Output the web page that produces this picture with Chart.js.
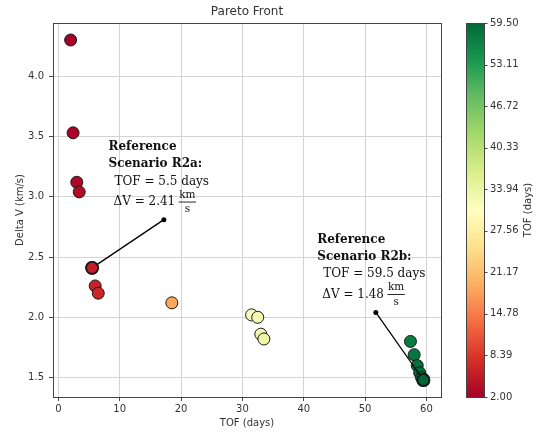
<!DOCTYPE html>
<html>
<head>
<meta charset="utf-8">
<script src="https://cdn.jsdelivr.net/npm/chart.js@4.4.1/dist/chart.umd.min.js"></script>
<style>
  html, body { margin: 0; padding: 0; background: #fff; }
  #chart { display: block; }
</style>
</head>
<body>
<canvas id="chart" width="538" height="432"></canvas>
<script>
// data
const tofDays = [2.0, 2.4, 3.0, 3.4, 5.5, 6.0, 6.5, 18.5, 31.5, 32.5, 33.0, 33.5, 57.4, 58.0, 58.5, 58.9, 59.2, 59.5];
const deltaV  = [4.30, 3.53, 3.12, 3.04, 2.41, 2.26, 2.20, 2.12, 2.02, 2.00, 1.86, 1.82, 1.80, 1.69, 1.60, 1.54, 1.50, 1.48];

const xTicks = [0, 10, 20, 30, 40, 50, 60];
const yTicks = [1.5, 2.0, 2.5, 3.0, 3.5, 4.0];
const cbarTicks = [2.00, 8.39, 14.78, 21.17, 27.56, 33.94, 40.33, 46.72, 53.11, 59.50];
const cbarMin = 2.0, cbarMax = 59.5;

// reference scenarios (index into the data + where the label sits, in data units)
const refIndex = [4, 17];
const refName = ['R2a', 'R2b'];
const dotX = [17.2, 51.75];
const dotY = [2.81, 2.04];
const textX = [8.17, 42.2];
const textY = [3.387, 2.62];

// RdYlGn
const rdylgn = ['#a50026', '#d73027', '#f46d43', '#fdae61', '#fee08b', '#ffffbf',
                '#d9ef8b', '#a6d96a', '#66bd63', '#1a9850', '#006837'];

function hexRgb(h) {
    return [parseInt(h.slice(1, 3), 16), parseInt(h.slice(3, 5), 16), parseInt(h.slice(5, 7), 16)];
}

function cmap(v) {
    let t = (v - cbarMin) / (cbarMax - cbarMin);
    t = Math.max(0, Math.min(1, t)) * (rdylgn.length - 1);
    const i = Math.min(Math.floor(t), rdylgn.length - 2);
    const f = t - i;
    const a = hexRgb(rdylgn[i]), b = hexRgb(rdylgn[i + 1]);
    const c = a.map((x, k) => Math.round(x + (b[k] - x) * f));
    return `rgb(${c[0]},${c[1]},${c[2]})`;
}

const points = tofDays.map((t, i) => ({ x: t, y: deltaV[i] }));

const decor = {
    id: 'decor',
    afterDatasetsDraw(chart) {
        const ctx = chart.ctx;
        const xs = chart.scales.x, ys = chart.scales.y;
        const meta = chart.getDatasetMeta(0);
        refIndex.forEach((idx, i) => {
            const pt = meta.data[idx];
            const dx = xs.getPixelForValue(dotX[i]), dy = ys.getPixelForValue(dotY[i]);
            ctx.save();
            ctx.strokeStyle = '#000';
            ctx.lineWidth = 1.3;
            ctx.beginPath();
            ctx.moveTo(pt.x, pt.y);
            ctx.lineTo(dx, dy);
            ctx.stroke();
            ctx.fillStyle = '#000';
            ctx.beginPath();
            ctx.arc(dx, dy, 2.5, 0, Math.PI * 2);
            ctx.fill();
            ctx.restore();
            pt.draw(ctx, chart.chartArea);

            // label text
            const tx = xs.getPixelForValue(textX[i]), ty = ys.getPixelForValue(textY[i]);
            ctx.save();
            ctx.fillStyle = '#111';
            ctx.textAlign = 'left';
            ctx.textBaseline = 'alphabetic';
            ctx.font = 'bold 12px "DejaVu Serif"';
            ctx.fillText('Reference', tx, ty);
            ctx.fillText('Scenario ' + refName[i] + ':', tx, ty + 17);
            ctx.font = '12px "DejaVu Serif"';
            ctx.fillText('TOF = ' + tofDays[idx].toFixed(1) + ' days', tx + 6, ty + 34.5);
            const dv = '\u0394V = ' + deltaV[idx].toFixed(2);
            ctx.fillText(dv, tx + 5, ty + 55);
            const fx = tx + 5 + ctx.measureText(dv).width + 4;
            ctx.font = '10.5px "DejaVu Serif"';
            const kw = ctx.measureText('km').width;
            ctx.fillText('km', fx, ty + 47.5);
            ctx.fillRect(fx - 0.5, ty + 51.5, kw + 1, 0.9);
            ctx.textAlign = 'center';
            ctx.fillText('s', fx + kw / 2, ty + 62);
            ctx.restore();
        });
    },
    afterDraw(chart) {
        const ctx = chart.ctx;
        const a = chart.chartArea;
        ctx.save();
        // frame
        ctx.strokeStyle = '#444';
        ctx.lineWidth = 1;
        ctx.strokeRect(Math.round(a.left) + 0.5, Math.round(a.top) + 0.5,
                       Math.round(a.right - a.left), Math.round(a.bottom - a.top));

        // titles
        ctx.fillStyle = '#333';
        ctx.textAlign = 'center';
        ctx.textBaseline = 'middle';
        ctx.font = '12px "DejaVu Sans"';
        ctx.fillText('Pareto Front', (a.left + a.right) / 2, 12);
        ctx.font = '10px "DejaVu Sans"';
        ctx.fillText('TOF (days)', (a.left + a.right) / 2, 423);
        ctx.save();
        ctx.translate(20, (a.top + a.bottom) / 2);
        ctx.rotate(-Math.PI / 2);
        ctx.fillText('Delta V (km/s)', 0, 0);
        ctx.restore();

        // colorbar
        const cbX = 466, cbW = 18;
        const top = Math.round(a.top), bot = Math.round(a.bottom);
        const grad = ctx.createLinearGradient(0, bot, 0, top);
        rdylgn.forEach((c, k) => grad.addColorStop(k / (rdylgn.length - 1), c));
        ctx.fillStyle = grad;
        ctx.fillRect(cbX, top, cbW, bot - top);
        ctx.strokeStyle = '#444';
        ctx.strokeRect(cbX + 0.5, top + 0.5, cbW, bot - top);
        ctx.fillStyle = '#333';
        ctx.textAlign = 'left';
        ctx.textBaseline = 'middle';
        cbarTicks.forEach(v => {
            const y = bot - (v - cbarMin) / (cbarMax - cbarMin) * (bot - top);
            ctx.beginPath();
            ctx.moveTo(cbX + cbW, Math.round(y) + 0.5);
            ctx.lineTo(cbX + cbW + 3.5, Math.round(y) + 0.5);
            ctx.stroke();
            ctx.fillText(v.toFixed(2), cbX + cbW + 6, y);
        });
        ctx.translate(528, (top + bot) / 2);
        ctx.rotate(-Math.PI / 2);
        ctx.textAlign = 'center';
        ctx.fillText('TOF (days)', 0, 0);
        ctx.restore();
    }
};

const tickFont = { family: 'DejaVu Sans', size: 10 };

new Chart(document.getElementById('chart'), {
    type: 'scatter',
    data: {
        datasets: [{
            data: points,
            backgroundColor: points.map(p => cmap(p.x)),
            borderColor: '#1a1a1a',
            borderWidth: ctx => refIndex.includes(ctx.dataIndex) ? 1.8 : 1,
            pointRadius: 6,
            pointHoverRadius: 6
        }]
    },
    options: {
        responsive: false,
        animation: false,
        devicePixelRatio: 1,
        events: [],
        layout: { padding: { top: 23, right: 97, left: 0, bottom: 0 } },
        plugins: { legend: { display: false }, tooltip: { enabled: false } },
        scales: {
            x: {
                type: 'linear',
                min: -0.875,
                max: 62.375,
                afterBuildTicks: s => { s.ticks = xTicks.map(v => ({ value: v })); },
                afterFit: s => { s.height = 35; },
                ticks: { font: tickFont, color: '#333', padding: 2, maxRotation: 0,
                         callback: v => String(v) },
                grid: { color: '#d3d3d3', tickColor: '#444', tickLength: 4 },
                border: { display: false }
            },
            y: {
                type: 'linear',
                min: 1.339,
                max: 4.441,
                afterBuildTicks: s => { s.ticks = yTicks.map(v => ({ value: v })); },
                afterFit: s => { s.width = 53; },
                ticks: { font: tickFont, color: '#333', padding: 5,
                         callback: v => v.toFixed(1) },
                grid: { color: '#d3d3d3', tickColor: '#444', tickLength: 4 },
                border: { display: false }
            }
        }
    },
    plugins: [decor]
});
</script>
</body>
</html>
